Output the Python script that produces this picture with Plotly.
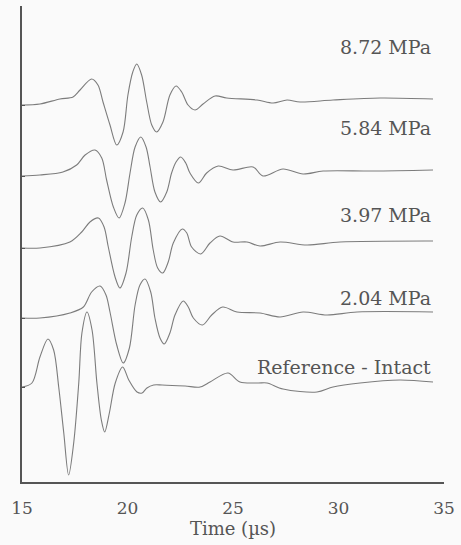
import plotly.graph_objects as go

# --- data (time in µs, amplitude in arbitrary units relative to baseline) ---
labels = ["8.72 MPa", "5.84 MPa", "3.97 MPa", "2.04 MPa", "Reference - Intact"]
offsets = [377, 306, 234, 164, 95]
label_y = [435, 354, 267, 184, 115]

t_872 = [15.00, 15.85, 16.80, 17.42, 17.75, 18.30, 18.60, 18.84, 19.17, 19.49, 19.79, 20.02, 20.25, 20.44,
         20.67, 20.91, 21.15, 21.38, 21.68, 22.01, 22.30, 22.57, 22.87, 23.20, 23.58, 24.15, 24.70,
         26.14, 26.90, 27.56, 28.18, 29.74, 31.97, 34.48]
a_872 = [0, 1, 6, 8, 15, 26, 20, 3, -20, -40, -27, 10, 33, 41,
         30, 3, -20, -27, -17, 10, 19, 13, 0, -5, 1, 9, 7,
         5, 2, 5, 3, 5, 7, 6]

t_584 = [15.00, 15.85, 16.94, 17.59, 17.99, 18.46, 18.78, 19.01, 19.33, 19.60, 19.88, 20.12, 20.36, 20.63,
         20.88, 21.07, 21.30, 21.57, 21.86, 22.09, 22.30, 22.52, 22.76, 22.96, 23.36, 23.75, 24.30,
         25.00, 25.95, 26.42, 27.37, 28.32, 29.27, 31.63, 34.48]
a_584 = [0, 1, 4, 11, 21, 26, 18, -4, -31, -42, -27, 3, 29, 39,
         29, 9, -16, -26, -16, 3, 14, 19, 13, 3, -7, 3, 10,
         6, 9, 0, 7, 2, 5, 5, 6]

t_397 = [15.00, 15.85, 17.27, 17.83, 18.22, 18.62, 18.89, 19.09, 19.41, 19.64, 19.93, 20.20, 20.44, 20.72,
         20.99, 21.22, 21.43, 21.67, 21.93, 22.17, 22.60, 22.81, 23.04, 23.47, 23.91, 24.38,
         25.00, 25.66, 26.28, 27.23, 28.51, 30.07, 34.48]
a_397 = [0, 0, 6, 16, 26, 30, 21, 1, -29, -40, -25, 11, 33, 40,
         28, -2, -20, -25, -14, 5, 19, 15, 1, -6, 5, 12,
         6, 6, 2, 6, 3, 6, 7]

t_204 = [15.00, 15.85, 17.27, 17.91, 18.30, 18.70, 18.98, 19.17, 19.49, 19.80, 20.09, 20.36, 20.59, 20.83,
         21.10, 21.30, 21.54, 21.74, 22.01, 22.25, 22.64, 22.88, 23.12, 23.55, 23.99, 24.51,
         25.19, 26.28, 27.23, 28.32, 29.45, 30.88, 34.48]
a_204 = [0, 0, 5, 11, 26, 32, 23, 6, -27, -45, -30, 13, 33, 39,
         26, 0, -20, -26, -15, 3, 17, 11, 0, -7, 3, 11,
         6, 5, 1, 6, 3, 6, 6]

t_ref = [15.00, 15.47, 15.85, 16.23, 16.50, 16.74, 16.98, 17.21, 17.45, 17.69, 17.84, 18.08, 18.32, 18.55,
         18.76, 18.92, 19.14, 19.42, 19.77, 20.06, 20.45, 20.69, 20.92, 21.24, 21.64, 22.73, 23.44, 23.91,
         24.76, 25.33, 26.18, 26.61, 27.37, 28.98, 29.74, 31.02, 32.91, 34.48]
a_ref = [0, 4, 30, 48, 37, 0, -46, -88, -56, 4, 54, 75, 57, 4,
         -33, -45, -26, 4, 20, 7, -5, -6, -1, 2, 2, 1, 0, 5,
         14, 5, 4, 4, -2, -5, 0, 4, 7, 5]

times = [t_872, t_584, t_397, t_204, t_ref]
amps = [a_872, a_584, a_397, a_204, a_ref]

x_ticks = [15, 20, 25, 30, 35]

TXT = "#555555"
LINE = "#7c7c7c"
FONT = "DejaVu Serif"

fig = go.Figure()
for name, t, a, off in zip(labels, times, amps, offsets):
    fig.add_trace(go.Scatter(
        x=t, y=[v + off for v in a], mode="lines", name=name,
        line=dict(color=LINE, width=1.1, shape="spline", smoothing=0.9),
        showlegend=False, hoverinfo="skip"))

for name, ly in zip(labels, label_y):
    fig.add_annotation(x=34.5, y=ly, text=name, showarrow=False, xanchor="right", yanchor="middle",
                       font=dict(family=FONT, size=19, color=TXT))

fig.update_layout(
    width=461, height=545,
    margin=dict(l=22, r=17, t=6, b=63),
    paper_bgcolor="#fafafa", plot_bgcolor="#fafafa",
    xaxis=dict(range=[15, 35], tickvals=x_ticks, ticktext=[str(v) for v in x_ticks],
               showgrid=False, zeroline=False, showline=True, linecolor="#555555", linewidth=2,
               ticks="", ticklabelstandoff=10,
               tickfont=dict(family=FONT, size=17, color=TXT),
               title=dict(text="Time (µs)", font=dict(family=FONT, size=18, color=TXT), standoff=0)),
    yaxis=dict(range=[0, 476], showgrid=False, zeroline=False, showline=True,
               linecolor="#555555", linewidth=2, tickvals=offsets, ticktext=[""] * len(offsets),
               ticks="inside", ticklen=3, tickcolor="#555555", showticklabels=False),
)

fig.write_html("out.html")
